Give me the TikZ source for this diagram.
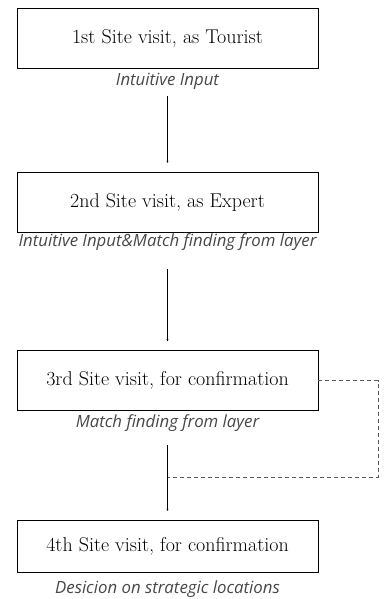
\documentclass[tikz,border=0pt]{standalone}
\usepackage{fontspec}
\newfontfamily\notefont{Open Sans}
\usetikzlibrary{arrows.meta}
\tikzset{
  visit/.style={shape=rectangle,draw=black,minimum width=301pt,minimum height=60pt,
    font=\fontsize{20}{24}\selectfont},
  note/.style={font=\notefont\itshape\fontsize{16.8}{19}\selectfont,text=black!72},
}
\begin{document}
\begin{tikzpicture}[x=1pt,y=-1pt,>={Stealth[length=2pt,width=2pt]}]
\useasboundingbox (0,0) rectangle (386,599);
\node[visit] (A) at (167.5,38.5) {\oldstylenums{1}st Site visit, as Tourist};
\node[note] (a) at (167.5,81) {Intuitive Input};
\node[visit] (B) at (167.5,202) {\oldstylenums{2}nd Site visit, as Expert};
\node[note] (b) at (167.5,242) {Intuitive Input\&Match finding from layer};
\node[visit] (C) at (167.5,380.5) {\oldstylenums{3}rd Site visit, for confirmation};
\node[note] (c) at (167.5,423) {Match finding from layer};
\node[visit,minimum height=52pt] (D) at (167.5,546) {\oldstylenums{4}th Site visit, for confirmation};
\node[note] (d) at (167.5,589.5) {Desicion on strategic locations};
\coordinate (J) at (167.5,477);
\coordinate (K) at (378,477);
\path [->] (a) edge[shorten <=3pt,shorten >=9pt] (B);
\path [->] (b) edge[shorten <=15pt,shorten >=9pt] (C);
\path [->] (c) edge[shorten <=10pt,shorten >=9pt] (D);
\draw [dash pattern=on 4pt off 3pt,line width=1pt,black!65] (C.east) -| (K) -- (J);
\end{tikzpicture}
\end{document}
